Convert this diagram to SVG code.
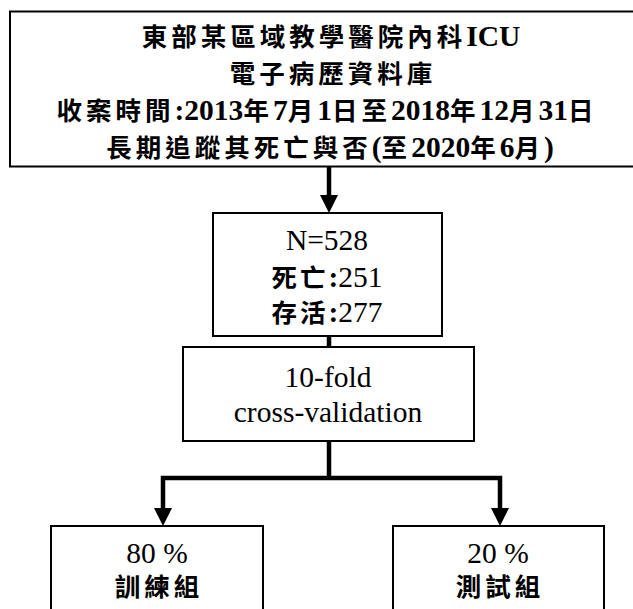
<svg xmlns="http://www.w3.org/2000/svg" width="633" height="609" viewBox="0 0 633 609">
<style>
.box{fill:#fff;stroke:#000;stroke-width:2}
.t{font-family:"Liberation Serif","Noto Sans CJK TC",serif;font-size:29.5px;text-anchor:middle;fill:#000}
.b{font-weight:bold}
.c{font-family:"Noto Sans CJK TC",sans-serif;font-weight:bold;font-size:25.5px;letter-spacing:4px}
.conn{stroke:#000;stroke-width:4.5;fill:none}
.head{fill:#000}
</style>
<g id="connectors">
<line class="conn" x1="329" y1="167" x2="329" y2="195"/>
<path class="head" d="M320,195 L338,195 L329,213 Z"/>
<line class="conn" x1="329" y1="336" x2="329" y2="347"/>
<polyline class="conn" points="329,441 329,478"/>
<polyline class="conn" points="163,508 163,478 500,478 500,508"/>
<path class="head" d="M154,508 L172,508 L163,526 Z"/>
<path class="head" d="M491,508 L509,508 L500,526 Z"/>
</g>
<g id="source">
<rect class="box" x="10" y="11.5" width="660" height="155"/>
<text class="t b" x="331" y="46"><tspan class="c">東部某區域教學醫院內科</tspan>ICU</text>
<text class="t b" x="333" y="83"><tspan class="c">電子病歷資料庫</tspan></text>
<text class="t b" x="327" y="120"><tspan class="c">收案時間</tspan>:2013<tspan class="c">年</tspan>7<tspan class="c">月</tspan>1<tspan class="c">日至</tspan>2018<tspan class="c">年</tspan>12<tspan class="c">月</tspan>31<tspan class="c">日</tspan></text>
<text class="t b" x="330" y="157"><tspan class="c">長期追蹤其死亡與否</tspan>(<tspan class="c">至</tspan>2020<tspan class="c">年</tspan>6<tspan class="c">月</tspan>)</text>
</g>
<g id="total">
<rect class="box" x="213" y="213" width="229" height="123"/>
<text class="t" x="327" y="250">N=528</text>
<text class="t" x="327" y="287"><tspan class="c" style="letter-spacing:3px">死亡</tspan><tspan class="b">:</tspan>251</text>
<text class="t" x="327" y="322"><tspan class="c" style="letter-spacing:3px">存活</tspan><tspan class="b">:</tspan>277</text>
</g>
<g id="cv">
<rect class="box" x="183" y="347" width="291" height="94"/>
<text class="t" x="328" y="387">10-fold</text>
<text class="t" x="328" y="422">cross-validation</text>
</g>
<g id="train">
<rect class="box" x="51" y="526" width="212" height="120"/>
<text class="t" x="157" y="563">80 %</text>
<text class="t c" x="159" y="596">訓練組</text>
</g>
<g id="test">
<rect class="box" x="393" y="526" width="211" height="120"/>
<text class="t" x="498" y="563">20 %</text>
<text class="t c" x="500" y="596">測試組</text>
</g>
</svg>
